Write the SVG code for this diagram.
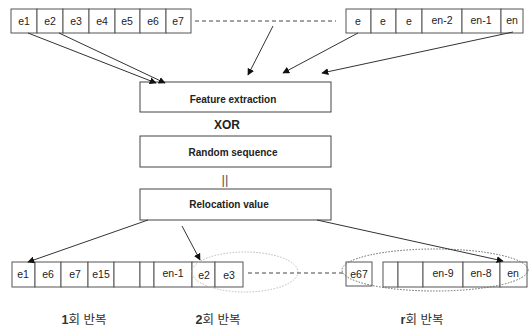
<svg xmlns="http://www.w3.org/2000/svg" width="530" height="328" viewBox="0 0 530 328">
  <style>
    .cell { fill: #fff; stroke: #555; stroke-width: 1; }
    .box { fill: #fff; stroke: #444; stroke-width: 1; }
    .lbl { font-family: "Liberation Sans", Arial, sans-serif; font-size: 10.5px; fill: #222; text-anchor: middle; }
    .blbl { font-family: "Liberation Sans", Arial, sans-serif; font-size: 10px; font-weight: bold; fill: #222; text-anchor: middle; }
    .kor { font-family: "Liberation Sans", "Noto Sans CJK KR", sans-serif; font-size: 12.5px; fill: #333; text-anchor: middle; }
    .arrow { stroke: #333; stroke-width: 1; fill: none; marker-end: url(#head); }
    .dash { stroke: #444; stroke-width: 1; stroke-dasharray: 4 3; fill: none; }
  </style>
  <defs>
    <marker id="head" viewBox="0 0 10 10" refX="9" refY="5" markerWidth="7" markerHeight="7" orient="auto" markerUnits="userSpaceOnUse">
      <path d="M0,0 L10,5 L0,10 z" fill="#111"/>
    </marker>
  </defs>

  <rect width="530" height="328" fill="#fff"/>

  <!-- top sequence, left part -->
  <g id="top-left">
    <rect class="cell" x="11" y="9" width="26" height="24"/>
    <rect class="cell" x="37" y="9" width="26" height="24"/>
    <rect class="cell" x="63" y="9" width="26" height="24"/>
    <rect class="cell" x="89" y="9" width="26" height="24"/>
    <rect class="cell" x="115" y="9" width="25" height="24"/>
    <rect class="cell" x="140" y="9" width="26" height="24"/>
    <rect class="cell" x="166" y="9" width="25" height="24"/>
    <text class="lbl" x="24" y="25">e1</text>
    <text class="lbl" x="50" y="25">e2</text>
    <text class="lbl" x="76" y="25">e3</text>
    <text class="lbl" x="102" y="25">e4</text>
    <text class="lbl" x="127" y="25">e5</text>
    <text class="lbl" x="153" y="25">e6</text>
    <text class="lbl" x="178" y="25">e7</text>
  </g>

  <!-- top sequence, right part -->
  <g id="top-right">
    <rect class="cell" x="346" y="9" width="25" height="24"/>
    <rect class="cell" x="371" y="9" width="25" height="24"/>
    <rect class="cell" x="396" y="9" width="26" height="24"/>
    <rect class="cell" x="422" y="9" width="40" height="24"/>
    <rect class="cell" x="462" y="9" width="39" height="24"/>
    <rect class="cell" x="501" y="9" width="22" height="24"/>
    <text class="lbl" x="358" y="25">e</text>
    <text class="lbl" x="383" y="25">e</text>
    <text class="lbl" x="409" y="25">e</text>
    <text class="lbl" x="442" y="24">en-2</text>
    <text class="lbl" x="481" y="24">en-1</text>
    <text class="lbl" x="512" y="24">en</text>
  </g>

  <!-- processing steps -->
  <g id="feature-extraction">
    <rect class="box" x="140" y="82" width="191" height="30"/>
    <text class="blbl" x="233" y="103">Feature extraction</text>
  </g>
  <g id="xor">
    <text class="blbl" x="227" y="129" style="font-size:12px">XOR</text>
  </g>
  <g id="random-sequence">
    <rect class="box" x="140" y="136" width="191" height="31"/>
    <text class="blbl" x="233" y="156">Random sequence</text>
  </g>
  <g id="equals">
    <text class="lbl" x="225" y="184" style="font-size:13px;fill:#555">||</text>
  </g>
  <g id="relocation-value">
    <rect class="box" x="140" y="189" width="191" height="31"/>
    <text class="blbl" x="229" y="208">Relocation value</text>
  </g>

  <!-- bottom sequence, left part -->
  <g id="bottom-left">
    <rect class="cell" x="12" y="262" width="23" height="25"/>
    <rect class="cell" x="35" y="262" width="26" height="25"/>
    <rect class="cell" x="61" y="262" width="27" height="25"/>
    <rect class="cell" x="88" y="262" width="26" height="25"/>
    <rect class="cell" x="114" y="262" width="26" height="25"/>
    <rect class="cell" x="140" y="262" width="14" height="25"/>
    <rect class="cell" x="154" y="262" width="38" height="25"/>
    <rect class="cell" x="192" y="262" width="23" height="25"/>
    <rect class="cell" x="215" y="262" width="28" height="25"/>
    <text class="lbl" x="23" y="278">e1</text>
    <text class="lbl" x="48" y="278">e6</text>
    <text class="lbl" x="75" y="278">e7</text>
    <text class="lbl" x="101" y="278">e15</text>
    <text class="lbl" x="173" y="277">en-1</text>
    <text class="lbl" x="204" y="279">e2</text>
    <text class="lbl" x="229" y="279">e3</text>
  </g>

  <!-- bottom sequence, right part -->
  <g id="bottom-right">
    <rect class="cell" x="346" y="262" width="26" height="24"/>
    <rect class="cell" x="383" y="262" width="15" height="25"/>
    <rect class="cell" x="398" y="262" width="25" height="25"/>
    <rect class="cell" x="423" y="262" width="40" height="25"/>
    <rect class="cell" x="463" y="262" width="37" height="25"/>
    <rect class="cell" x="500" y="262" width="27" height="25"/>
    <text class="lbl" x="359" y="278">e67</text>
    <text class="lbl" x="443" y="277">en-9</text>
    <text class="lbl" x="481" y="277">en-8</text>
    <text class="lbl" x="513" y="277">en</text>
  </g>

  <!-- round groupings -->
  <g id="round-2">
    <ellipse cx="245" cy="272" rx="53" ry="20" fill="none" stroke="#bbb" stroke-width="1" stroke-dasharray="1.5 1.5"/>
  </g>
  <g id="round-r">
    <ellipse cx="435" cy="270" rx="93" ry="21" fill="none" stroke="#666" stroke-width="1" stroke-dasharray="1.5 1.5"/>
  </g>

  <!-- round labels -->
  <g id="labels">
    <text class="kor" x="84" y="324"><tspan font-weight="bold">1</tspan>회 반복</text>
    <text class="kor" x="218" y="324"><tspan font-weight="bold">2</tspan>회 반복</text>
    <text class="kor" x="422" y="324"><tspan font-weight="bold">r</tspan>회 반복</text>
  </g>

  <!-- connectors -->
  <g id="connectors">
    <path class="dash" d="M195,21 H336"/>
    <path class="dash" d="M248,273 H344"/>
    <path class="arrow" d="M28,33 L156,83"/>
    <path class="arrow" d="M59,33 L165,83"/>
    <path class="arrow" d="M273,26 L248,75"/>
    <path class="arrow" d="M358,33 L283,73"/>
    <path class="arrow" d="M513,32 L322,73"/>
    <path class="arrow" d="M148,220 L28,262"/>
    <path class="arrow" d="M182,226 L200,260"/>
    <path class="arrow" d="M317,220 L503,261"/>
  </g>
</svg>
